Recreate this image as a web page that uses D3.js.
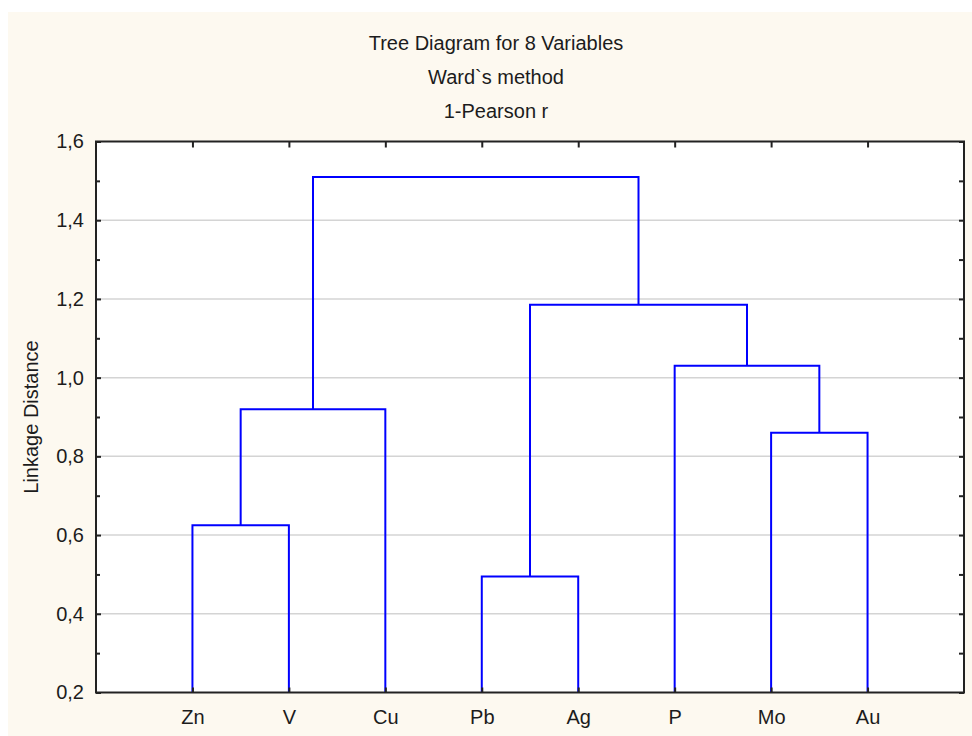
<!DOCTYPE html>
<html>
<head>
<meta charset="utf-8">
<script src="https://cdn.jsdelivr.net/npm/d3@7"></script>
<style>
  body { margin: 0; background: #ffffff; }
  svg { display: block; }
  text { font-family: "Liberation Sans", Arial, sans-serif; fill: #1c1c1c; }
</style>
</head>
<body>
<svg id="tree-chart-svg" width="972" height="736"></svg>
<script>
// leaves in display order
let leaves = ["Zn", "V", "Cu", "Pb", "Ag", "P", "Mo", "Au"];

// joins, "#n" points to the n-th join
let mergeLeft  = ["Zn", "#0", "Pb", "Mo", "P",  "#2", "#1"];
let mergeRight = ["V",  "Cu", "Ag", "Au", "#3", "#4", "#5"];
let mergeDist  = [0.625, 0.92, 0.495, 0.86, 1.03, 1.185, 1.51];

let majorTicks = [0.2, 0.4, 0.6, 0.8, 1.0, 1.2, 1.4, 1.6];
let minorTicks = [0.3, 0.5, 0.7, 0.9, 1.1, 1.3, 1.5];
let titleLines = ["Tree Diagram for 8 Variables", "Ward`s method", "1-Pearson r"];

let svg = d3.select("#tree-chart-svg");
let pad = {t: 141.5, r: 8, b: 43.5, l: 96};
let chartW = 972 - pad.l - pad.r;
let chartH = 736 - pad.t - pad.b;

// cream panel
svg.append("rect")
    .attr("x", 8).attr("y", 12)
    .attr("width", 964).attr("height", 724)
    .attr("fill", "#fdf9f0");

let x = d3.scalePoint().domain(leaves).range([0, chartW]).padding(1);
let y = d3.scaleLinear().domain([0.2, 1.6]).range([chartH, 0]);
let fmt = d3.formatLocale({decimal: ",", thousands: ".", grouping: [3], currency: ["", ""]}).format(".1f");

let g = svg.append("g").attr("transform", "translate(" + pad.l + "," + pad.t + ")");

g.append("rect")
    .attr("width", chartW).attr("height", chartH)
    .attr("fill", "#ffffff");

// gridlines
g.selectAll(".grid").data(majorTicks.slice(1, -1)).enter()
    .append("line")
    .attr("x1", 0).attr("x2", chartW)
    .attr("y1", d => y(d)).attr("y2", d => y(d))
    .attr("stroke", "#d4d4d4")
    .attr("stroke-width", 1.5);

// tree links
let nodeX = [], nodeY = [];
function pos(ref) {
    if (ref[0] === "#") {
        let k = +ref.slice(1);
        return [nodeX[k], nodeY[k]];
    }
    return [x(ref), y(0.2)];
}
mergeDist.forEach(function(d, i) {
    let a = pos(mergeLeft[i]), b = pos(mergeRight[i]);
    nodeX[i] = (a[0] + b[0]) / 2;
    nodeY[i] = y(d);
    g.append("path")
        .attr("d", "M" + a[0] + "," + a[1] + "V" + nodeY[i] + "H" + b[0] + "V" + b[1])
        .attr("fill", "none")
        .attr("stroke", "#0000ff")
        .attr("stroke-width", 2);
});

// axes
function styleAxis(sel) {
    sel.select(".domain").remove();
    sel.selectAll(".tick line").attr("stroke", "#222").attr("stroke-width", 2);
    sel.selectAll("text").attr("font-size", "20px").attr("fill", "#1c1c1c")
        .attr("font-family", "'Liberation Sans', Arial, sans-serif");
}

g.append("g")
    .call(d3.axisLeft(y).tickValues(majorTicks).tickSize(-5).tickPadding(12).tickFormat(fmt))
    .call(styleAxis);
g.append("g")
    .call(d3.axisLeft(y).tickValues(minorTicks).tickSize(-4).tickFormat(""))
    .call(styleAxis);
g.append("g").attr("transform", "translate(" + chartW + ",0)")
    .call(d3.axisRight(y).tickValues(majorTicks.concat(minorTicks)).tickSize(-5).tickFormat(""))
    .call(styleAxis);
g.append("g")
    .call(d3.axisTop(x).tickSize(-6).tickFormat(""))
    .call(styleAxis);
g.append("g").attr("transform", "translate(0," + chartH + ")")
    .call(d3.axisBottom(x).tickSize(-5).tickPadding(17))
    .call(styleAxis);

// frame
g.append("rect")
    .attr("width", chartW).attr("height", chartH)
    .attr("fill", "none")
    .attr("stroke", "#222")
    .attr("stroke-width", 2);

// titles
svg.selectAll(".title").data(titleLines).enter()
    .append("text")
    .attr("x", 496)
    .attr("y", (d, i) => 50 + i * 34)
    .attr("text-anchor", "middle")
    .attr("font-size", "20px")
    .text(d => d);

svg.append("text")
    .attr("transform", "translate(38,417) rotate(-90)")
    .attr("text-anchor", "middle")
    .attr("font-size", "20px")
    .text("Linkage Distance");
</script>
</body>
</html>
